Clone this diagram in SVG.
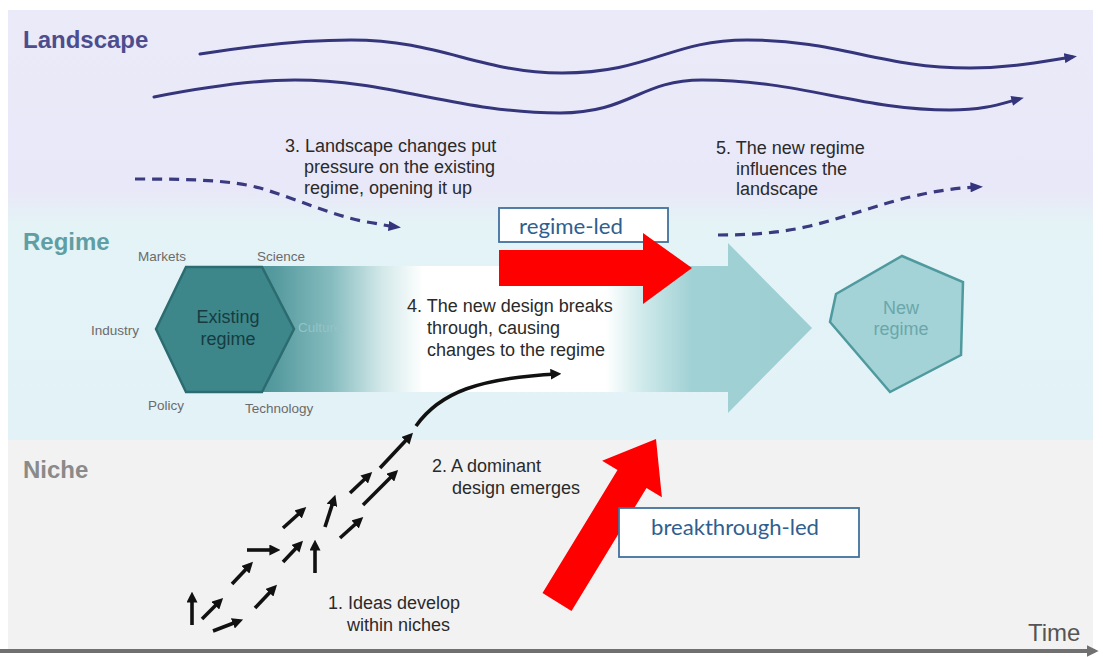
<svg xmlns="http://www.w3.org/2000/svg" width="1103" height="657" viewBox="0 0 1103 657">
  <defs>
    <linearGradient id="bandGrad" gradientUnits="userSpaceOnUse" x1="0" y1="10" x2="0" y2="440">
      <stop offset="0" stop-color="#ebeaf8"/>
      <stop offset="0.42" stop-color="#e9e8f8"/>
      <stop offset="0.50" stop-color="#e4f3f6"/>
      <stop offset="1" stop-color="#e3f2f6"/>
    </linearGradient>
    <linearGradient id="flowGrad" gradientUnits="userSpaceOnUse" x1="240" y1="0" x2="812" y2="0">
      <stop offset="0" stop-color="#448c90"/>
      <stop offset="0.06" stop-color="#559a9e"/>
      <stop offset="0.16" stop-color="#86bcbf"/>
      <stop offset="0.25" stop-color="#d4e9ea"/>
      <stop offset="0.32" stop-color="#ffffff"/>
      <stop offset="0.64" stop-color="#ffffff"/>
      <stop offset="0.70" stop-color="#d2ebec"/>
      <stop offset="0.79" stop-color="#a0d1d4"/>
      <stop offset="1" stop-color="#9dcfd2"/>
    </linearGradient>
    <marker id="navyHead" markerUnits="userSpaceOnUse" viewBox="0 0 10 8" markerWidth="13" markerHeight="10" refX="6" refY="4" orient="auto">
      <path d="M0,0 L10,4 L0,8 Z" fill="#34347c"/>
    </marker>
    <marker id="blackHead" markerUnits="userSpaceOnUse" viewBox="0 0 10 10" markerWidth="11" markerHeight="11" refX="6" refY="5" orient="auto">
      <path d="M0,0 L10,5 L0,10 Z" fill="#111"/>
    </marker>
    <marker id="axisHead" markerUnits="userSpaceOnUse" viewBox="0 0 10 10" markerWidth="12" markerHeight="12" refX="7" refY="5" orient="auto">
      <path d="M0,0 L10,5 L0,10 Z" fill="#707070"/>
    </marker>
    <style>
      .band-label { font-family: "Liberation Sans", Arial, sans-serif; font-weight: bold; font-size: 24px; }
      .callout { font-family: "Liberation Sans", Arial, sans-serif; font-size: 18px; fill: #2a2a2a; }
      .facet { font-family: "Liberation Sans", Arial, sans-serif; font-size: 13.5px; fill: #6b6b6b; }
      .hex-text { font-family: "Liberation Sans", Arial, sans-serif; font-size: 18px; text-anchor: middle; }
      .old-regime-text { fill: #163c41; }
      .new-regime-text { fill: #6aa7ab; }
      .wave { fill: none; stroke: #35357c; stroke-width: 3; stroke-linecap: round; marker-end: url(#navyHead); }
      .dashed { fill: none; stroke: #3a3a80; stroke-width: 3.2; stroke-dasharray: 10 7; marker-end: url(#navyHead); }
      .idea { fill: none; stroke: #111; stroke-width: 3.6; marker-end: url(#blackHead); }
      .red-arrow { fill: #ff0000; }
      .tag-box { fill: #ffffff; stroke: #41719c; stroke-width: 1.8; }
      .tag-text { font-family: "Lato", "Liberation Sans", sans-serif; font-size: 21px; fill: #2f5f8f; }
    </style>
  </defs>

  <!-- background bands -->
  <g id="bands">
    <rect x="0" y="0" width="1103" height="657" fill="#ffffff"/>
    <rect x="8" y="10" width="1085" height="430" fill="url(#bandGrad)"/>
    <rect x="8" y="440" width="1085" height="210" fill="#f2f2f2"/>
  </g>

  <!-- band titles -->
  <g id="band-labels">
    <text class="band-label" x="23" y="48" fill="#4d4d8e">Landscape</text>
    <text class="band-label" x="23" y="250" fill="#5f9fa3">Regime</text>
    <text class="band-label" x="23" y="478" fill="#8a8a8a">Niche</text>
  </g>

  <!-- transition flow: existing regime fading into the broad arrow -->
  <g id="transition-flow">
    <path d="M240,266 L728,266 L728,243 L812,328 L728,413 L728,392 L240,392 Z" fill="url(#flowGrad)"/>
  </g>

  <!-- existing regime hexagon -->
  <g id="existing-regime">
    <polygon points="156,329 186,267 262,267 294,329 262,392 186,392" fill="#3d878b" stroke="#2c6c71" stroke-width="2.5"/>
    <text class="hex-text old-regime-text" x="228" y="323">Existing</text>
    <text class="hex-text old-regime-text" x="228" y="345">regime</text>
  </g>

  <!-- regime facets -->
  <g id="facets">
    <text class="facet" x="138" y="261">Markets</text>
    <text class="facet" x="257" y="261">Science</text>
    <text class="facet" x="91" y="335">Industry</text>
    <text class="facet" x="298" y="332" style="fill:#93c3c6">Culture</text>
    <text class="facet" x="148" y="410">Policy</text>
    <text class="facet" x="245" y="413">Technology</text>
  </g>

  <!-- new regime -->
  <g id="new-regime">
    <polygon points="902,256 963,282 961,355 890,392 830,322 836,294" fill="#a3d3d6" stroke="#4f9a9e" stroke-width="2.5"/>
    <text class="hex-text new-regime-text" x="901" y="314">New</text>
    <text class="hex-text new-regime-text" x="901" y="335">regime</text>
  </g>

  <!-- connectors -->
  <g id="connectors">
    <!-- landscape trends -->
    <path class="wave" d="M200,54 C250,46 300,40 351,40 C440,40 480,73 562,73 C650,73 670,40 747,40 C840,40 880,68 970,68 C1010,68 1040,62 1072,57"/>
    <path class="wave" d="M154,97 C200,88 250,80 295,80 C390,80 460,113 560,113 C630,113 640,80 702,80 C800,80 860,110 950,110 C985,110 1000,104 1019,99"/>
    <!-- landscape pressure and feedback -->
    <path class="dashed" d="M135,179 C190,179 230,180 260,188 C300,200 330,215 367,222 C380,224 388,226 396,227"/>
    <path class="dashed" d="M718,235 C750,235 780,233 810,226 C850,216 880,204 910,197 C935,191 955,188 978,187"/>
    <!-- ideas developing in niches -->
    <line class="idea" x1="192" y1="625" x2="192" y2="596"/>
    <line class="idea" x1="202" y1="619" x2="220" y2="601"/>
    <line class="idea" x1="213" y1="631" x2="239" y2="621"/>
    <line class="idea" x1="232" y1="584" x2="250" y2="565"/>
    <line class="idea" x1="255" y1="608" x2="274" y2="588"/>
    <line class="idea" x1="247" y1="550" x2="276" y2="550"/>
    <line class="idea" x1="283" y1="562" x2="300" y2="544"/>
    <line class="idea" x1="315" y1="573" x2="315" y2="544"/>
    <line class="idea" x1="283" y1="528" x2="303" y2="510"/>
    <line class="idea" x1="325" y1="527" x2="334" y2="499"/>
    <line class="idea" x1="340" y1="538" x2="360" y2="520"/>
    <line class="idea" x1="350" y1="493" x2="369" y2="475"/>
    <line class="idea" x1="363" y1="505" x2="395" y2="473"/>
    <line class="idea" x1="380" y1="468" x2="410" y2="436"/>
    <!-- breakthrough into the regime -->
    <path class="idea" d="M416,426 C440,392 480,378 557,374"/>
    <!-- time axis -->
    <line x1="0" y1="651" x2="1095" y2="651" stroke="#707070" stroke-width="4" marker-end="url(#axisHead)"/>
  </g>

  <!-- callouts -->
  <g id="callouts">
    <text class="callout" x="285" y="152">3. Landscape changes put</text>
    <text class="callout" x="304" y="173">pressure on the existing</text>
    <text class="callout" x="304" y="194">regime, opening it up</text>

    <text class="callout" x="716" y="154">5. The new regime</text>
    <text class="callout" x="736" y="175">influences the</text>
    <text class="callout" x="736" y="195">landscape</text>

    <text class="callout" x="407" y="312">4. The new design breaks</text>
    <text class="callout" x="427" y="334">through, causing</text>
    <text class="callout" x="427" y="356">changes to the regime</text>

    <text class="callout" x="432" y="472">2. A dominant</text>
    <text class="callout" x="452" y="494">design emerges</text>

    <text class="callout" x="328" y="609">1. Ideas develop</text>
    <text class="callout" x="347" y="631">within niches</text>

    <text x="1028" y="641" font-family="Liberation Sans, Arial, sans-serif" font-size="24" fill="#555555">Time</text>
  </g>

  <!-- regime-led pathway -->
  <g id="regime-led">
    <rect class="tag-box" x="499" y="208" width="169" height="34"/>
    <text class="tag-text" x="519" y="234" textLength="104" lengthAdjust="spacingAndGlyphs">regime-led</text>
    <polygon class="red-arrow" points="499,250 643,250 643,233 692,268 643,304 643,286 499,286"/>
  </g>

  <!-- breakthrough-led pathway -->
  <g id="breakthrough-led">
    <polygon class="red-arrow" points="542.5,593.1 617.5,470.1 602.1,460.8 656,439 661.9,497.2 646.5,487.9 571.5,610.9"/>
    <rect class="tag-box" x="619" y="508" width="240" height="49"/>
    <text class="tag-text" x="651" y="535" textLength="168" lengthAdjust="spacingAndGlyphs">breakthrough-led</text>
  </g>
</svg>
